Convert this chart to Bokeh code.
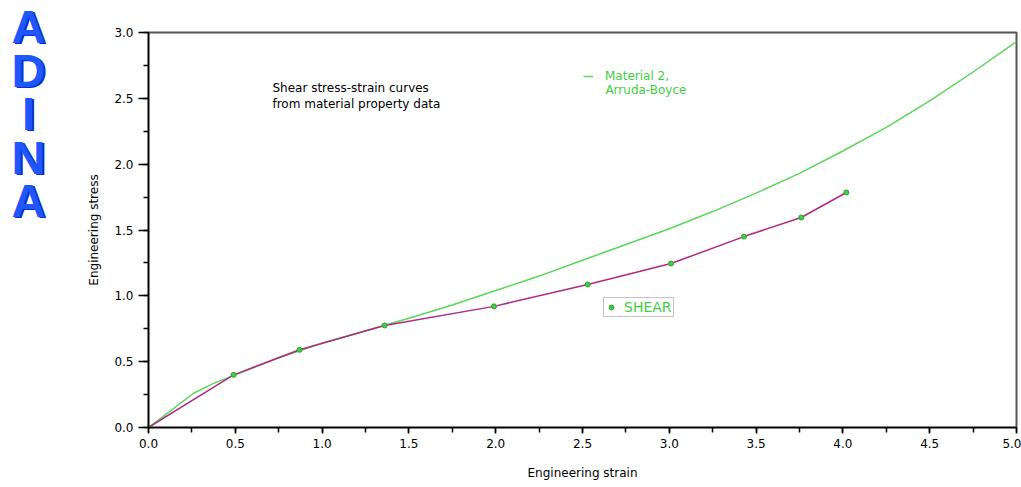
from bokeh.plotting import figure
from bokeh.layouts import row
from bokeh.models import (Range1d, SingleIntervalTicker, NumeralTickFormatter,
                          Label, Legend, LegendItem, Div)
from bokeh.embed import file_html
from bokeh.resources import INLINE

# Measured shear test points (engineering strain / engineering stress)
shear_strain = [0.0, 0.49, 0.87, 1.36, 1.99, 2.53, 3.01, 3.43, 3.76, 4.02]
shear_stress = [0.0, 0.40, 0.59, 0.775, 0.92, 1.086, 1.245, 1.45, 1.595, 1.785]

# Arruda-Boyce fit for material 2
ab_strain = [0.0, 0.125, 0.26, 0.375, 0.5, 0.75, 1.0, 1.25, 1.5, 1.75, 2.0,
             2.25, 2.5, 2.75, 3.0, 3.25, 3.5, 3.75, 4.0, 4.25, 4.5, 4.75, 5.0]
ab_stress = [0.0, 0.125, 0.26, 0.335, 0.40, 0.53, 0.64, 0.735, 0.83, 0.93, 1.04,
             1.15, 1.27, 1.39, 1.51, 1.64, 1.78, 1.93, 2.10, 2.28, 2.48, 2.70, 2.93]

logo_word = "ADINA"

FONT = "DejaVu Sans"
GREEN_LINE = "#5ad65a"
GREEN_TEXT = "#3fcf3f"
MAGENTA = "#b02a80"

# ---- vertical program logo strip (one word, stacked upright letters) -------
logo_html = (
    "<div style=\"writing-mode:vertical-lr; text-orientation:upright;"
    " font-family:'Liberation Sans'; font-weight:bold; font-size:47px;"
    " line-height:56px; width:56px; letter-spacing:-9.5px; color:#1e56ff;"
    " padding-top:0px; text-shadow:2px 1px 0 #0b2fc8;\">"
    + logo_word + "</div>"
)
logo = Div(text=logo_html, width=60, height=487, margin=0)

# ---- main stress/strain chart ----------------------------------------------
p = figure(width=961, height=487, x_range=Range1d(0, 5), y_range=Range1d(0, 3),
           output_backend="svg", toolbar_location=None,
           min_border_left=88, min_border_right=5,
           min_border_top=32, min_border_bottom=60, margin=0)
p.background_fill_color = "white"
p.border_fill_color = "white"
p.outline_line_color = "#555555"
p.outline_line_width = 2
p.xgrid.grid_line_color = None
p.ygrid.grid_line_color = None

for ax in (p.xaxis[0], p.yaxis[0]):
    ax.ticker = SingleIntervalTicker(interval=0.5, num_minor_ticks=2)
    ax.formatter = NumeralTickFormatter(format="0.0")
    ax.axis_line_color = "black"
    ax.axis_line_width = 1.5
    ax.major_tick_line_color = "black"
    ax.minor_tick_line_color = "black"
    ax.major_tick_line_width = 1.5
    ax.minor_tick_line_width = 1.5
    ax.major_tick_in = 0
    ax.minor_tick_in = 0
    ax.major_label_text_font = FONT
    ax.major_label_text_font_size = "12px"
    ax.major_label_text_color = "black"
    ax.major_label_standoff = 5
    ax.axis_label_text_font = FONT
    ax.axis_label_text_font_size = "12px"
    ax.axis_label_text_font_style = "normal"
    ax.axis_label_text_color = "black"

p.xaxis.axis_label = "Engineering strain"
p.xaxis.major_tick_out = 6
p.xaxis.minor_tick_out = 5
p.xaxis.axis_label_standoff = 15
p.yaxis.axis_label = "Engineering stress"
p.yaxis.major_tick_out = 10
p.yaxis.minor_tick_out = 5
p.yaxis.axis_label_standoff = 10

ab_line = p.line(ab_strain, ab_stress, line_color=GREEN_LINE, line_width=1.5)
shear_line = p.line(shear_strain, shear_stress, line_color=MAGENTA, line_width=1.5)
shear_pts = p.scatter(shear_strain, shear_stress, marker="circle", size=5,
                      fill_color="#44cc44", line_color="#2f9f2f")

# Curve key for the fitted model
fit_key = Legend(items=[LegendItem(label="Material 2,", renderers=[ab_line])],
                 location=(435, 344), border_line_color=None,
                 background_fill_alpha=0, padding=0, margin=0,
                 glyph_width=10, glyph_height=14, label_height=14,
                 label_standoff=12, label_text_font=FONT,
                 label_text_font_size="12px", label_text_color=GREEN_TEXT)
p.add_layout(fit_key)
p.add_layout(Label(x=2.632, y=2.566, text="Arruda-Boyce", text_font=FONT,
                   text_font_size="12px", text_color=GREEN_TEXT,
                   text_baseline="middle"))

# Key for the measured data
data_key = Legend(items=[LegendItem(label="SHEAR", renderers=[shear_pts])],
                  location=(455, 110), border_line_color="#888888",
                  border_line_width=1.5, background_fill_alpha=0,
                  padding=1, margin=0, glyph_width=12, glyph_height=12,
                  label_height=12, label_standoff=7, label_text_font=FONT,
                  label_text_font_size="14px", label_text_color=GREEN_TEXT)
p.add_layout(data_key)

# Description
p.add_layout(Label(x=0.714, y=2.575, text="Shear stress-strain curves",
                   text_font=FONT, text_font_size="12px", text_color="black",
                   text_baseline="middle"))
p.add_layout(Label(x=0.714, y=2.46, text="from material property data",
                   text_font=FONT, text_font_size="12px", text_color="black",
                   text_baseline="middle"))

layout = row(logo, p, spacing=0)
open("out.html", "w").write(file_html(layout, INLINE))
